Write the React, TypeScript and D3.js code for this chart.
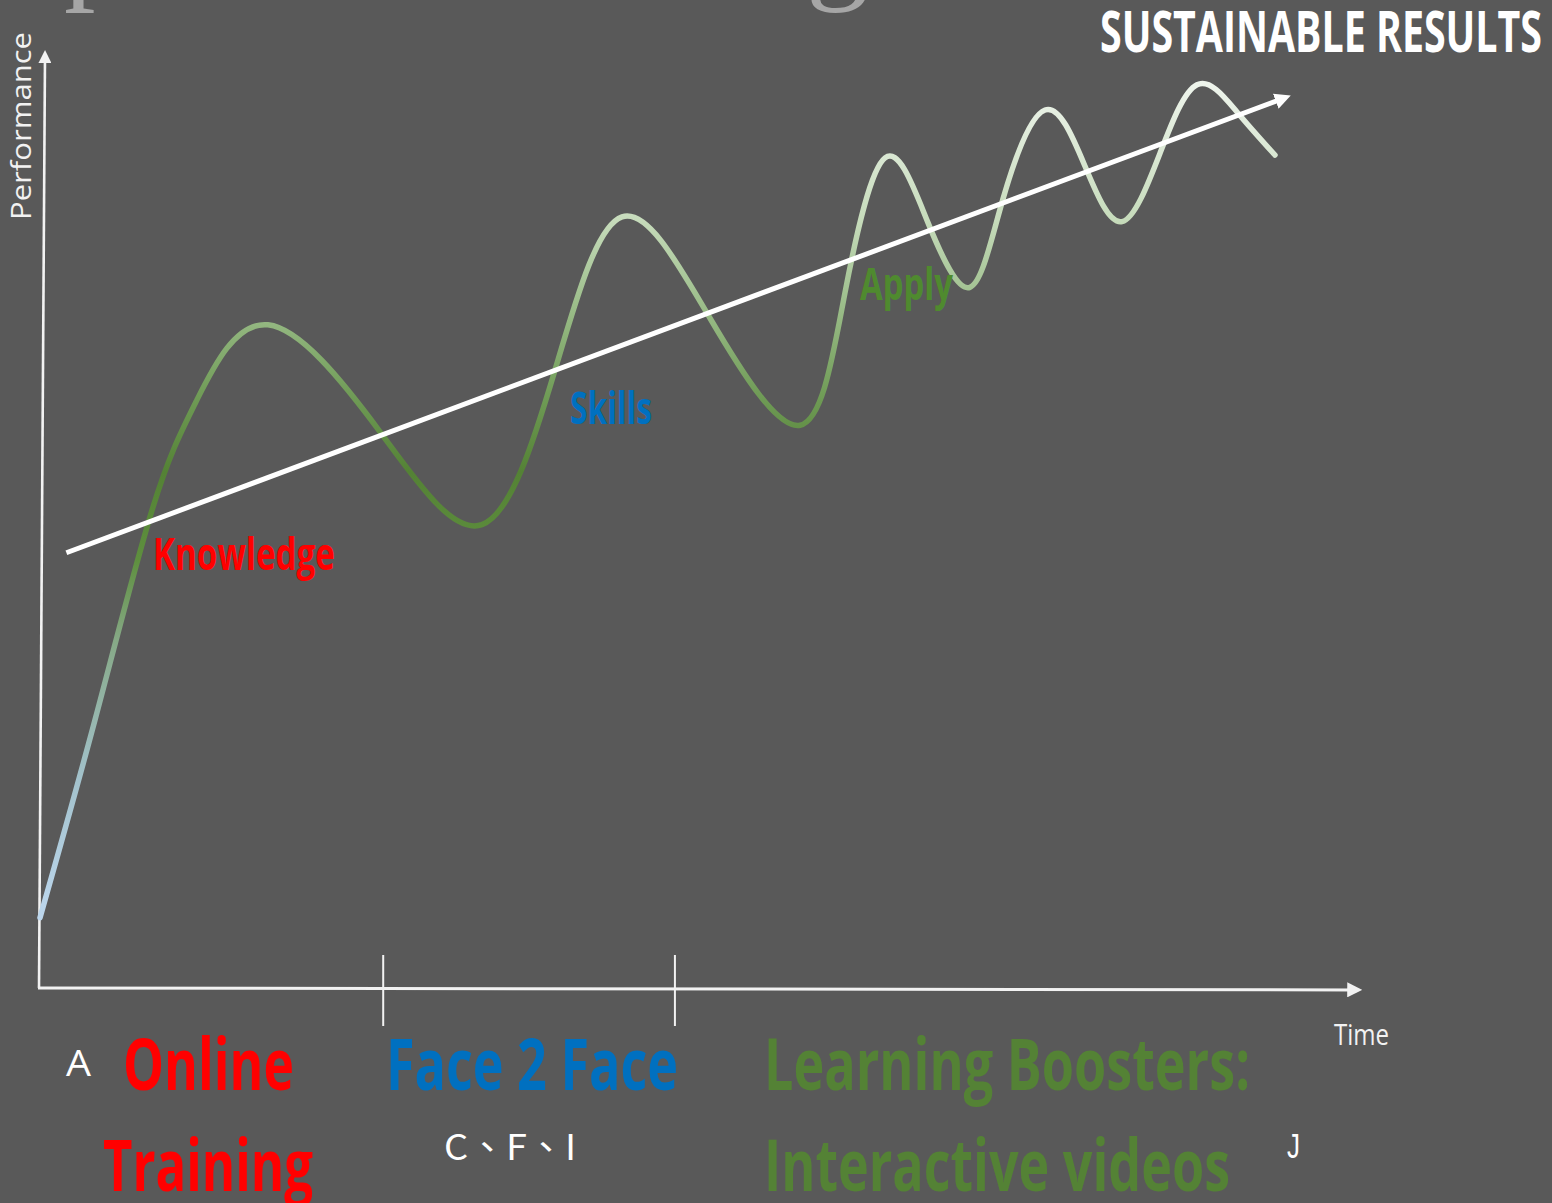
import React from "react";
import * as d3 from "d3";

// Performance curve over time (time units 0–10, performance units 0–10):
// start, inflections and turning points of each learning wave
const curveTime = [0, 0.417, 0.85, 1.189, 1.727, 2.576, 3.348, 3.902, 4.409, 5.076, 5.758, 6.098, 6.402, 6.727, 7.045, 7.295, 7.614, 7.917, 8.197, 8.485, 8.765, 9.068, 9.356];
const curvePerf = [0.75, 2.86, 5.1, 6.27, 7.07, 5.93, 4.94, 6.59, 8.22, 7.14, 6.0, 7.41, 8.85, 8.16, 7.47, 8.41, 9.36, 8.76, 8.17, 8.9, 9.63, 9.34, 8.88];

// Sustainable-results trend arrow
const trendTime = [0.2, 9.43];
const trendPerf = [4.64, 9.49];

// Phase boundaries on the time axis
const phaseTicks = [2.6, 4.81];

// Curve colour by performance level
const gradientLevels = [0.73, 2.22, 3.71, 4.57, 5.5, 6.3, 7.35, 8.2, 9.65];
const gradientColors = ["#bdd7ee", "#a3c2cc", "#86a986", "#5e8f3e", "#548235", "#6f9b56", "#9fc08e", "#c7dcbc", "#eef4ec"];

const W = 1552;
const H = 1203;

export default function App() {
  const x = d3.scaleLinear().domain([0, 10]).range([40, 1360]);
  const y = d3.scaleLinear().domain([0, 10]).range([988, 50]);

  const curvePts: [number, number][] = curveTime.map((t, i) => [t, curvePerf[i]]);
  const curvePath = d3
    .line<[number, number]>()
    .x((d) => x(d[0]))
    .y((d) => y(d[1]))
    .curve(d3.curveNatural)(curvePts) as string;

  const gy1 = y(gradientLevels[0]);
  const gy2 = y(gradientLevels[gradientLevels.length - 1]);
  const span = gy2 - gy1;

  const bold = { fontFamily: "'Open Sans', sans-serif", fontWeight: 700 };
  const fit = (len: number) => ({ textLength: len, lengthAdjust: "spacingAndGlyphs" as const });

  return (
    <svg
      width={W}
      height={H}
      viewBox={`0 0 ${W} ${H}`}
      style={{ position: "absolute", left: 0, top: 0, display: "block" }}
    >
      <defs>
        <linearGradient id="perfGrad" gradientUnits="userSpaceOnUse" x1={0} x2={0} y1={gy1} y2={gy2}>
          {gradientLevels.map((lv, i) => (
            <stop key={i} offset={(y(lv) - gy1) / span} stopColor={gradientColors[i]} />
          ))}
        </linearGradient>
        <marker id="axisHead" viewBox="0 0 10 10" refX="5" refY="5" markerWidth="5" markerHeight="5" orient="auto" markerUnits="strokeWidth">
          <path d="M0,0 L10,5 L0,10 Z" fill="#f2f2f2" />
        </marker>
        <marker id="trendHead" viewBox="0 0 10 10" refX="6" refY="5" markerWidth="3.2" markerHeight="3.2" orient="auto" markerUnits="strokeWidth">
          <path d="M0,0 L10,5 L0,10 Z" fill="#ffffff" />
        </marker>
      </defs>

      <rect x={0} y={0} width={W} height={H} fill="#595959" />

      {/* heading, mostly above the visible area */}
      <text x={-76} y={-14} fontFamily="'Liberation Serif', serif" fontSize={126} fill="#a6a6a6">
        Impact of Training
      </text>

      {/* axes */}
      <line x1={x(0) - 1} y1={y(0)} x2={x(0) + 5} y2={y(9.93)} stroke="#f2f2f2" strokeWidth={2.6} markerEnd="url(#axisHead)" />
      <line x1={x(0) - 2} y1={y(0)} x2={x(9.96)} y2={y(-0.02)} stroke="#f2f2f2" strokeWidth={3} markerEnd="url(#axisHead)" />
      {phaseTicks.map((t, i) => (
        <line key={i} x1={x(t)} x2={x(t)} y1={y(0) - 33} y2={y(0) + 38} stroke="#f2f2f2" strokeWidth={2} />
      ))}

      {/* performance curve */}
      <path d={curvePath} fill="none" stroke="url(#perfGrad)" strokeWidth={5.5} strokeLinecap="round" />

      {/* trend arrow */}
      <line
        x1={x(trendTime[0])}
        y1={y(trendPerf[0])}
        x2={x(trendTime[1])}
        y2={y(trendPerf[1])}
        stroke="#ffffff"
        strokeWidth={5}
        markerEnd="url(#trendHead)"
      />

      {/* axis titles */}
      <text
        transform="translate(31,220) rotate(-90)"
        fontFamily="'Open Sans', sans-serif"
        fontSize={27}
        fill="#f2f2f2"
        {...fit(188)}
      >
        Performance
      </text>
      <text x={1334} y={1045} fontFamily="'Open Sans', sans-serif" fontSize={30} fill="#f2f2f2" {...fit(55)}>
        Time
      </text>

      <text x={1100} y={52} {...bold} fontSize={57} fill="#ffffff" {...fit(442)}>
        SUSTAINABLE RESULTS
      </text>

      {/* stage labels on the curve */}
      <text x={153} y={570} {...bold} fontSize={45} fill="#ff0000" {...fit(182)}>
        Knowledge
      </text>
      <text x={570} y={424} {...bold} fontSize={45} fill="#0070c0" {...fit(82)}>
        Skills
      </text>
      <text x={860} y={300} {...bold} fontSize={45} fill="#4f8a2f" {...fit(93)}>
        Apply
      </text>

      {/* phase labels */}
      <text x={123} y={1090} {...bold} fontSize={72} fill="#ff0000" {...fit(171)}>
        Online
      </text>
      <text x={103} y={1191} {...bold} fontSize={72} fill="#ff0000" {...fit(210)}>
        Training
      </text>
      <text x={386} y={1090} {...bold} fontSize={72} fill="#0070c0" {...fit(292)}>
        Face 2 Face
      </text>
      <text x={764} y={1090} {...bold} fontSize={72} fill="#548235" {...fit(486)}>
        Learning Boosters:
      </text>
      <text x={764} y={1191} {...bold} fontSize={72} fill="#548235" {...fit(466)}>
        Interactive videos
      </text>

      <text x={66} y={1076} fontFamily="'Open Sans', sans-serif" fontSize={37} fill="#ffffff" {...fit(25)}>
        A
      </text>
      <text x={444} y={1160} fontFamily="'Noto Sans CJK TC', 'Open Sans', sans-serif" fontSize={35} fill="#ffffff" {...fit(132)}>
        C、F、I
      </text>
      <text x={1287} y={1158} fontFamily="'Liberation Sans', sans-serif" fontSize={35} fill="#ffffff" {...fit(13)}>
        J
      </text>
    </svg>
  );
}
